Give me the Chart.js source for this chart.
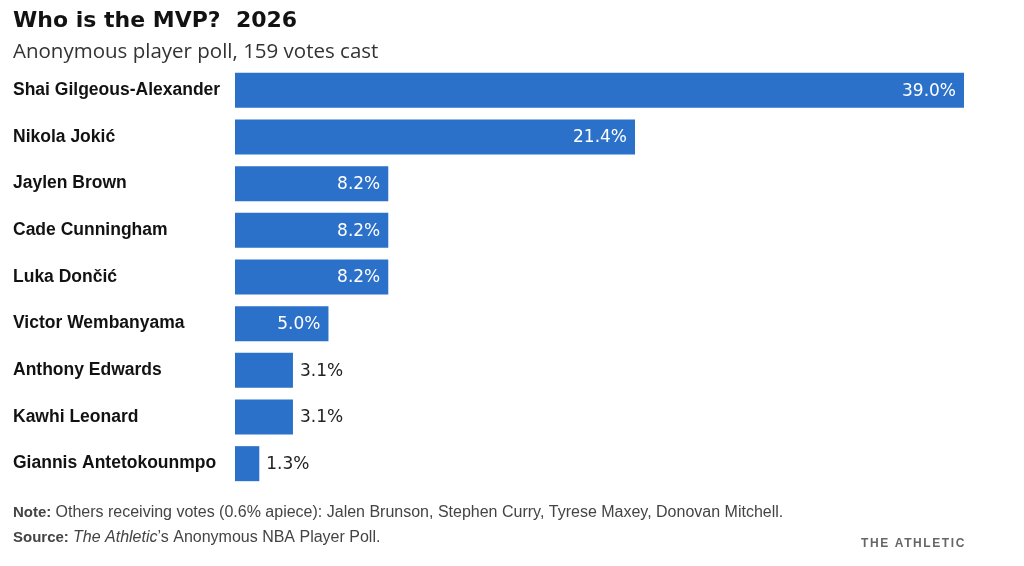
<!DOCTYPE html>
<html>
<head>
<meta charset="utf-8">
<script src="https://cdn.jsdelivr.net/npm/chart.js@4"></script>
<style>
  html, body { margin: 0; padding: 0; background: #fff; }
  #wrap { width: 1024px; height: 566px; }
</style>
</head>
<body>
<div id="wrap"><canvas id="myChart" width="1024" height="566"></canvas></div>
<script>
const players = ["Shai Gilgeous-Alexander", "Nikola Jokić", "Jaylen Brown", "Cade Cunningham", "Luka Dončić", "Victor Wembanyama", "Anthony Edwards", "Kawhi Leonard", "Giannis Antetokounmpo"];
const voteShare = [39.0, 21.4, 8.2, 8.2, 8.2, 5.0, 3.1, 3.1, 1.3];
const noteText = "Others receiving votes (0.6% apiece): Jalen Brunson, Stephen Curry, Tyrese Maxey, Donovan Mitchell.";

const barColor = '#2b70c9';

// value labels: white inside the wide bars, dark just past the short ones
const valueLabels = {
    id: 'valueLabels',
    afterDatasetsDraw(chart) {
        const ctx = chart.ctx;
        const meta = chart.getDatasetMeta(0);
        ctx.save();
        ctx.font = '17px "DejaVu Sans"';
        ctx.textBaseline = 'middle';
        meta.data.forEach((bar, i) => {
            const v = voteShare[i];
            const txt = v.toFixed(1) + '%';
            if (v >= 5) {
                ctx.fillStyle = '#fff';
                ctx.textAlign = 'right';
                ctx.fillText(txt, bar.x - 8, bar.y + 1);
            } else {
                ctx.fillStyle = '#222';
                ctx.textAlign = 'left';
                ctx.fillText(txt, bar.x + 7, bar.y + 1);
            }
        });
        ctx.restore();
    }
};

// note + source lines and the logo text at the bottom
const footer = {
    id: 'footer',
    afterDraw(chart) {
        const ctx = chart.ctx;
        ctx.save();
        ctx.textBaseline = 'middle';
        ctx.textAlign = 'left';
        ctx.fillStyle = '#444';

        ctx.font = 'bold 15px "Liberation Sans"';
        ctx.fillText('Note:', 13, 513);
        let x = 13 + ctx.measureText('Note: ').width;
        ctx.font = '16px "Liberation Sans"';
        ctx.fillText(noteText, x, 513);

        ctx.font = 'bold 15px "Liberation Sans"';
        ctx.fillText('Source:', 13, 538);
        x = 13 + ctx.measureText('Source: ').width;
        ctx.font = 'italic 16px "Liberation Sans"';
        ctx.fillText('The Athletic', x, 538);
        x += ctx.measureText('The Athletic').width;
        ctx.font = '16px "Liberation Sans"';
        ctx.fillText('’s Anonymous NBA Player Poll.', x, 538);

        ctx.font = 'bold 12px "Liberation Sans"';
        ctx.fillStyle = '#666';
        ctx.letterSpacing = '1.6px';
        ctx.textAlign = 'right';
        ctx.fillText('THE ATHLETIC', 966, 544);
        ctx.restore();
    }
};

const ctx = document.getElementById('myChart').getContext('2d');
new Chart(ctx, {
    type: 'bar',
    data: {
        labels: players,
        datasets: [{
            label: 'Vote share',
            data: voteShare,
            backgroundColor: barColor,
            borderWidth: 0,
            barPercentage: 0.75,
            categoryPercentage: 1.0,
        }]
    },
    options: {
        indexAxis: 'y',
        responsive: false,
        animation: false,
        layout: {
            padding: { left: 13, right: 60, top: 0, bottom: 79 }
        },
        scales: {
            x: {
                display: false,
                min: 0,
                max: 39,
            },
            y: {
                grid: { display: false },
                border: { display: false },
                afterFit(scale) { scale.width = 222; },
                ticks: {
                    crossAlign: 'far',
                    color: '#121212',
                    padding: 0,
                    font: { family: '"Liberation Sans"', size: 17.5, weight: 'bold' },
                }
            }
        },
        plugins: {
            legend: { display: false },
            tooltip: { enabled: false },
            title: {
                display: true,
                align: 'start',
                text: 'Who is the MVP?  2026',
                color: '#121212',
                font: { family: '"DejaVu Sans"', size: 22, weight: 'bold' },
                padding: { top: 8, bottom: 1 }
            },
            subtitle: {
                display: true,
                align: 'start',
                text: 'Anonymous player poll, 159 votes cast',
                color: '#333',
                font: { family: '"Open Sans"', size: 20.5 },
                padding: { top: 4, bottom: 3 }
            }
        }
    },
    plugins: [valueLabels, footer]
});
</script>
</body>
</html>
